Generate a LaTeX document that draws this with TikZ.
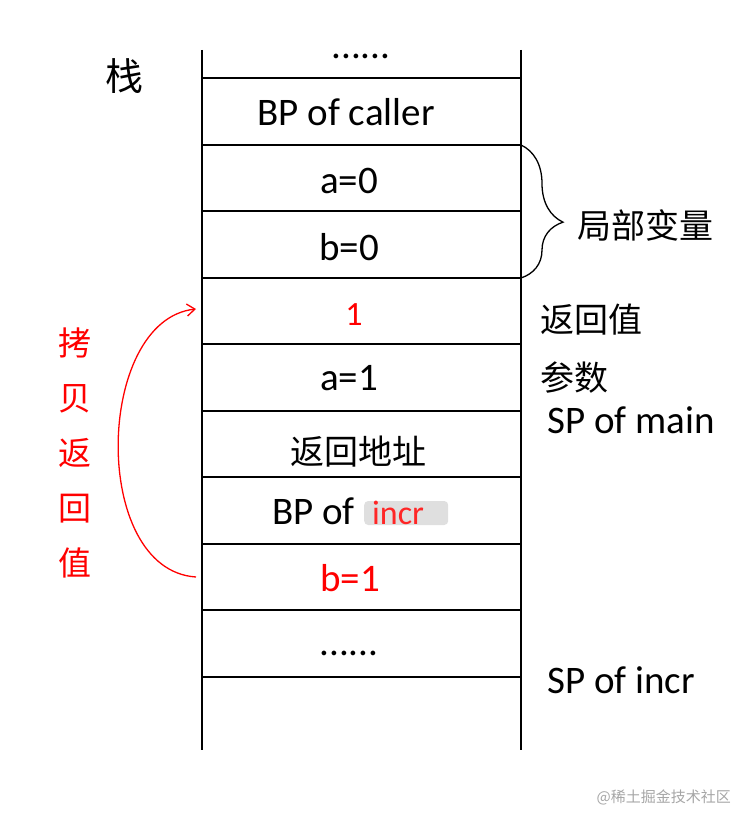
\documentclass[tikz,border=0pt]{standalone}
\usepackage{fontspec}
\setmainfont{Carlito}
\newfontfamily\cjk{Noto Sans CJK SC}
\usetikzlibrary{decorations.pathreplacing,arrows.meta}
\begin{document}
\begin{tikzpicture}[x=1pt,y=-1pt,
 lbl/.style={font=\fontsize{39}{39}\selectfont,inner sep=0pt},
 clbl/.style={font=\cjk\fontsize{34}{34}\selectfont,inner sep=0pt},
 rl/.style={red}]
\useasboundingbox (0,0) rectangle (752,829);
\draw[line width=1.5pt] (202,50) -- (202,750) (521,50) -- (521,750);
\foreach \y in {78,145,211,278,344,411,477,544,610,677}
  \draw[line width=1.5pt] (202,\y) -- (521,\y);
\node[lbl] (d1) at (361,56) {......};
\node[lbl] (bpc) at (346,112) {BP of caller};
\node[lbl] (a0) at (349,181) {a=0};
\node[lbl] (b0) at (349,247) {b=0};
\node[lbl,rl,font=\fontsize{34}{34}\selectfont] (one) at (354,315) {1};
\node[clbl,font=\cjk\fontsize{34}{34}\selectfont] (ret) at (358,452) {返回地址};
\node[lbl] (a1) at (349,378) {a=1};
\node[lbl,anchor=west] (bpi) at (272,511) {BP of};
\node[fill=gray!25,inner sep=0pt,minimum width=84pt,minimum height=24pt,rounded corners=4pt,anchor=west] (blur) at (364,513) {};
\node[lbl,rl,anchor=west,text=red!85!white,font=\fontsize{34}{34}\selectfont] (incr) at (372,513) {incr};
\node[lbl,rl] (b1) at (350,578) {b=1};
\node[lbl] (d2) at (349,653) {......};
\node[clbl,font=\cjk\fontsize{38}{38}\selectfont] (zhan) at (124,76) {栈};
\draw[decorate,decoration={brace,amplitude=42pt,aspect=0.58},line width=1.3pt] (521,145) -- coordinate[midway] (bt) (521,278);
\node[clbl,anchor=west] (jb) at (577,225) {局部变量};
\node[clbl,anchor=west] (fh) at (540,320) {返回值};
\node[clbl,anchor=west] (cs) at (540,378) {参数};
\node[lbl,anchor=west] (spm) at (547,420) {SP of main};
\node[lbl,anchor=west] (spi) at (547,680) {SP of incr};
\node[clbl,rl,align=center,font=\cjk\fontsize{33}{55}\selectfont] (kb) at (75,453) {拷\\贝\\返\\回\\值};
\coordinate (s) at (196,577);
\coordinate (e) at (196,309);
\draw[red,line width=1.3pt,-{Straight Barb[length=8pt,width=12pt]}] (s) .. controls (90,570) and (95,320) .. (e);
\node[font=\cjk\fontsize{15}{15}\selectfont,text=gray!70,anchor=east,inner sep=0pt] (wm) at (731,797) {@稀土掘金技术社区};
\end{tikzpicture}
\end{document}
